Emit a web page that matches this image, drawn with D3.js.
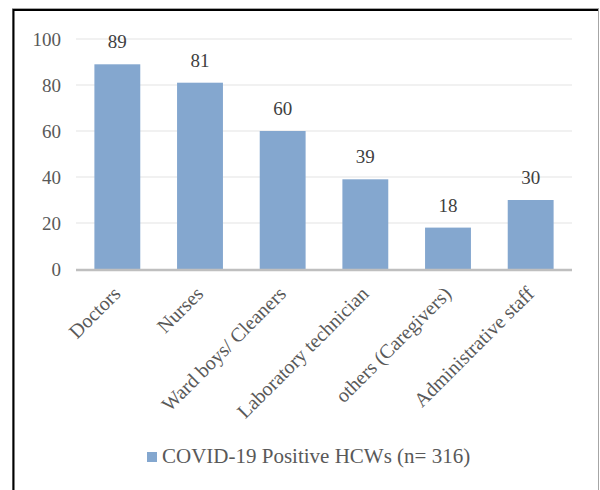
<!DOCTYPE html>
<html>
<head>
<meta charset="utf-8">
<script src="https://cdn.jsdelivr.net/npm/d3@7"></script>
<style>
  html, body { margin: 0; padding: 0; background: #fff; }
  svg { display: block; font-family: "Liberation Serif", "Times New Roman", serif; }
  svg text { font-family: "Liberation Serif", "Times New Roman", serif; }
</style>
</head>
<body>
<svg id="chart" width="600" height="490"></svg>
<script>
const categories = ["Doctors", "Nurses", "Ward boys/ Cleaners", "Laboratory technician", "others (Caregivers)", "Administrative staff"];
const values = [89, 81, 60, 39, 18, 30];
const yTicks = [0, 20, 40, 60, 80, 100];
const seriesName = "COVID-19 Positive HCWs (n= 316)";

const svg = d3.select("#chart");
const textColor = "#595959";
const barColor = "#84a7cf";

// frame
svg.append("rect").attr("x", 12.5).attr("y", 8.5).attr("width", 586).attr("height", 490)
  .attr("fill", "none").attr("stroke", "#a6a6a6").attr("stroke-width", 1);
svg.append("path").attr("d", "M13.5,500 V10 H598")
  .attr("fill", "none").attr("stroke", "#000").attr("stroke-width", 2);

const plotL = 76, plotR = 572, plotT = 39, plotB = 269;

const x = d3.scaleBand().domain(categories).range([plotL, plotR])
  .paddingInner(0.445).paddingOuter(0.2225);
const y = d3.scaleLinear().domain([0, 100]).range([plotB, plotT]);

// gridlines
svg.append("g").selectAll("line").data(yTicks.filter(t => t > 0)).join("line")
  .attr("x1", plotL).attr("x2", plotR)
  .attr("y1", d => y(d)).attr("y2", d => y(d))
  .attr("stroke", "#ececec").attr("stroke-width", 1.5);

// y axis labels
const yAxis = d3.axisLeft(y).tickValues(yTicks).tickSize(0).tickPadding(0);
const yg = svg.append("g").attr("transform", `translate(61,0)`).call(yAxis);
yg.attr("font-family", null).attr("font-size", null);
yg.select(".domain").remove();
yg.selectAll("text").attr("fill", textColor).attr("font-size", 19);

// bars
svg.append("g").selectAll("rect").data(values).join("rect")
  .attr("x", (d, i) => x(categories[i]))
  .attr("width", x.bandwidth())
  .attr("y", d => y(d))
  .attr("height", d => y(0) - y(d))
  .attr("fill", barColor);

// baseline
svg.append("line").attr("x1", plotL).attr("x2", plotR)
  .attr("y1", y(0) + 1).attr("y2", y(0) + 1)
  .attr("stroke", "#bfbfbf").attr("stroke-width", 2.5);

// value labels
svg.append("g").selectAll("text").data(values).join("text")
  .attr("x", (d, i) => x(categories[i]) + x.bandwidth() / 2)
  .attr("y", d => y(d) - 16)
  .attr("text-anchor", "middle")
  .attr("font-size", 19)
  .attr("fill", "#404040")
  .text(d => d);

// x labels
const xAxis = d3.axisBottom(x).tickSize(0).tickPadding(0);
const xg = svg.append("g").attr("transform", `translate(0,${plotB})`).call(xAxis);
xg.attr("font-family", null).attr("font-size", null);
xg.select(".domain").remove();
xg.selectAll("text")
  .attr("font-size", 20)
  .attr("fill", textColor)
  .attr("text-anchor", "end")
  .attr("dy", 0)
  .attr("y", 0)
  .attr("transform", "translate(4.5,26) rotate(-45)");

// legend
const lg = svg.append("g");
lg.append("rect").attr("x", 147).attr("y", 452).attr("width", 10).attr("height", 10).attr("fill", barColor);
lg.append("text").attr("x", 162).attr("y", 463).attr("font-size", 21).attr("fill", textColor).text(seriesName);
</script>
</body>
</html>
